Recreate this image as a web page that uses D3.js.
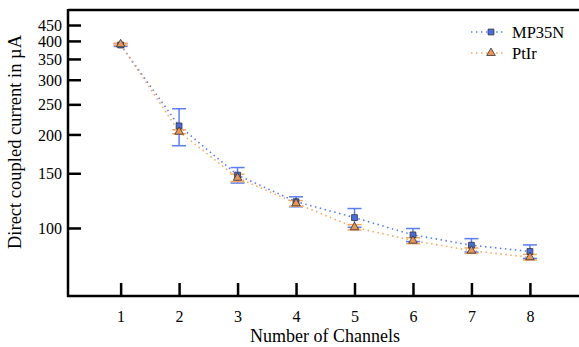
<!DOCTYPE html>
<html>
<head>
<meta charset="utf-8">
<script src="https://cdn.jsdelivr.net/npm/d3@7"></script>
<style>
  body { margin: 0; background: #fff; }
  svg text { font-family: "Liberation Serif", "DejaVu Serif", serif !important; fill: #000; }
</style>
</head>
<body>
<svg id="chart" width="579" height="347"></svg>
<script>
// data
const channels = [1, 2, 3, 4, 5, 6, 7, 8];
const mp35n = [388, 213, 148, 121.5, 108, 95, 88, 84];
const mp35nErr = [4, 29, 8.5, 4.5, 7.5, 4.6, 4.4, 4.2];
const ptir = [390, 204, 145, 120, 100.5, 91, 84.5, 80.5];
const ptirErr = [3, 3, 4, 2.5, 2, 2, 1.7, 1.7];
const yTicks = [100, 150, 200, 250, 300, 350, 400, 450];

const width = 579, height = 347;
const plotLeft = 68, plotTop = 10, plotBottom = 296;
const serif = "'Liberation Serif', 'Times New Roman', serif";

const svg = d3.select("#chart").attr("font-family", serif);

const x = d3.scaleLinear().domain([0.1, 8.9]).range([plotLeft, plotLeft + 8.8 * 58.47]);
const y = d3.scaleLog().domain([60.4, 503]).range([plotBottom, plotTop]);

const series = [
    { name: "MP35N", vals: mp35n, err: mp35nErr, color: "#5a7ef0", fill: "#4a6ee0", shape: d3.symbolSquare, size: 34 },
    { name: "PtIr", vals: ptir, err: ptirErr, color: "#f5a862", fill: "#e8955a", shape: d3.symbolTriangle, size: 32 }
];

const plot = svg.append("g");

// dotted connecting lines
series.forEach(s => {
    const line = d3.line().x((d, i) => x(channels[i])).y(d => y(d));
    plot.append("path")
        .datum(s.vals)
        .attr("fill", "none")
        .attr("stroke", s.color)
        .attr("stroke-width", 1.6)
        .attr("stroke-dasharray", "1.5,3.5")
        .attr("d", line);
});

// error bars
series.forEach(s => {
    const g = plot.append("g").attr("stroke", s.color).attr("stroke-width", 1.5);
    s.vals.forEach((v, i) => {
        const cx = x(channels[i]);
        const y1 = y(v + s.err[i]), y2 = y(v - s.err[i]);
        g.append("line").attr("x1", cx).attr("x2", cx).attr("y1", y1).attr("y2", y2);
        g.append("line").attr("x1", cx - 7).attr("x2", cx + 7).attr("y1", y1).attr("y2", y1);
        g.append("line").attr("x1", cx - 7).attr("x2", cx + 7).attr("y1", y2).attr("y2", y2);
    });
});

// markers
series.forEach(s => {
    plot.append("g").selectAll("path")
        .data(s.vals)
        .join("path")
        .attr("transform", (d, i) => `translate(${x(channels[i])},${y(d)})`)
        .attr("d", d3.symbol().type(s.shape).size(s.size))
        .attr("fill", s.fill)
        .attr("stroke", "#333")
        .attr("stroke-width", 0.8);
});

// frame
svg.append("line").attr("x1", plotLeft).attr("x2", width).attr("y1", plotTop).attr("y2", plotTop)
    .attr("stroke", "#000").attr("stroke-width", 2.5);

// axes with inward ticks
const yAxis = d3.axisRight(y).tickValues(yTicks).tickSize(13).tickFormat("");
const yg = svg.append("g").attr("transform", `translate(${plotLeft},0)`).call(yAxis)
    .attr("font-family", serif);
yg.select(".domain").remove();
yg.selectAll(".tick line").attr("stroke", "#000").attr("stroke-width", 2.5);
svg.append("line").attr("x1", plotLeft).attr("x2", plotLeft).attr("y1", plotTop - 1).attr("y2", plotBottom + 1)
    .attr("stroke", "#000").attr("stroke-width", 2.5);
yg.selectAll(".tick").append("text")
    .attr("x", -6).attr("dy", "0.35em")
    .attr("text-anchor", "end")
    .attr("font-family", serif)
    .style("font-size", "16px")
    .text(d => d);

const xAxis = d3.axisTop(x).tickValues(channels).tickSize(13).tickFormat("");
const xg = svg.append("g").attr("transform", `translate(0,${plotBottom})`).call(xAxis)
    .attr("font-family", serif);
xg.select(".domain").remove();
xg.selectAll(".tick line").attr("stroke", "#000").attr("stroke-width", 2.5);
svg.append("line").attr("x1", plotLeft - 1).attr("x2", width).attr("y1", plotBottom).attr("y2", plotBottom)
    .attr("stroke", "#000").attr("stroke-width", 2.5);
xg.selectAll(".tick").append("text")
    .attr("y", 26)
    .attr("text-anchor", "middle")
    .attr("font-family", serif)
    .style("font-size", "16px")
    .text(d => d);

// axis titles
svg.append("text")
    .attr("x", 325).attr("y", 342)
    .attr("text-anchor", "middle")
    .attr("font-family", serif)
    .style("font-size", "18px")
    .text("Number of Channels");

svg.append("text")
    .attr("transform", "translate(21,142) rotate(-90)")
    .attr("text-anchor", "middle")
    .attr("font-family", serif)
    .style("font-size", "18.5px")
    .text("Direct coupled current in µA");

// legend
const legend = svg.append("g");
series.forEach((s, i) => {
    const ly = 32 + i * 21;
    legend.append("line")
        .attr("x1", 471).attr("x2", 503).attr("y1", ly).attr("y2", ly)
        .attr("stroke", s.color).attr("stroke-width", 1.6).attr("stroke-dasharray", "1.5,3.5");
    legend.append("path")
        .attr("transform", `translate(491,${ly})`)
        .attr("d", d3.symbol().type(s.shape).size(s.size))
        .attr("fill", s.fill).attr("stroke", "#333").attr("stroke-width", 0.8);
    legend.append("text")
        .attr("x", 512).attr("y", ly).attr("dy", "0.35em")
        .attr("font-family", serif)
        .style("font-size", "16.5px")
        .text(s.name);
});
</script>
</body>
</html>
